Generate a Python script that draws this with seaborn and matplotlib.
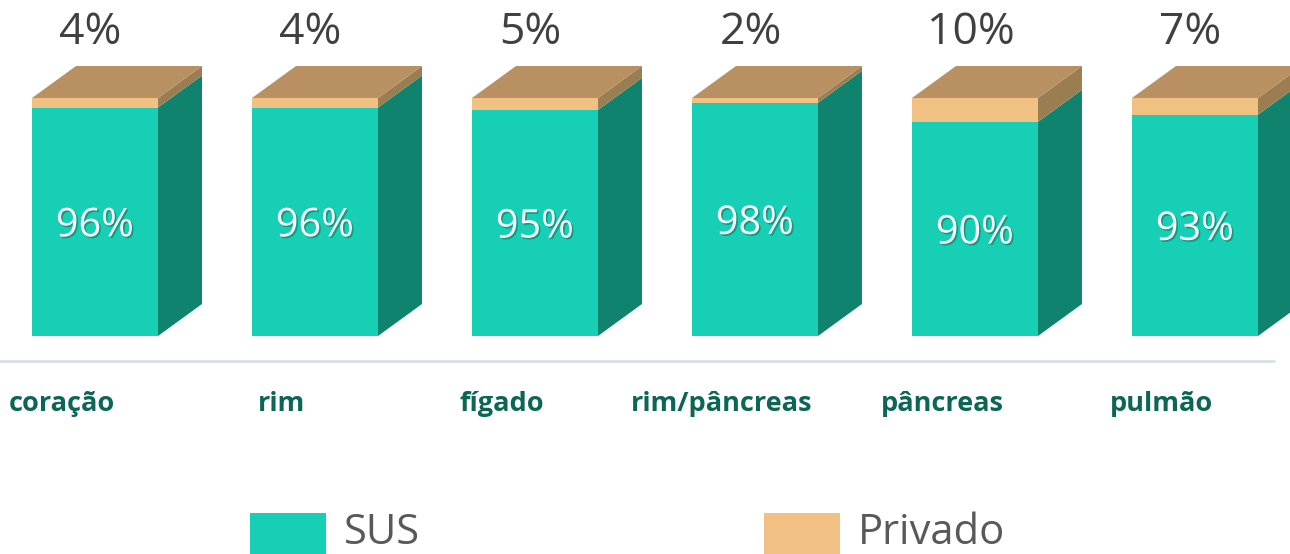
import numpy as np
import pandas as pd
import matplotlib
matplotlib.use("Agg")
import matplotlib.pyplot as plt
import seaborn as sns
from matplotlib.patches import Polygon, Patch, Rectangle
from matplotlib.legend_handler import HandlerPatch
import matplotlib.patheffects as pe

# ---- data ----
categories = ["coração", "rim", "fígado", "rim/pâncreas", "pâncreas", "pulmão"]
sus = [96, 96, 95, 98, 90, 93]
privado = [4, 4, 5, 2, 10, 7]
series_names = ["SUS", "Privado"]

# ---- style ----
SUS_FRONT = "#17CFB4"
SUS_SIDE = "#10836F"
PRIV_FRONT = "#F0C182"
PRIV_SIDE = "#9B7D52"
TOP = "#B89062"
CAT_COLOR = "#0B6656"
LABEL_COLOR = "#404040"
LEGEND_TEXT = "#595959"

sns.set_theme(style="white")
plt.rcParams['font.family'] = ['Open Sans', 'DejaVu Sans']

fig = plt.figure(figsize=(12.9, 5.54), dpi=100)
ax = fig.add_axes([0, 0, 1, 1])

df = pd.DataFrame({"cat": categories, "sus": sus, "priv": privado})
df["total"] = df["sus"] + df["priv"]

BAR_W = 126 / 220
sns.barplot(data=df, x="cat", y="total", color=PRIV_FRONT, saturation=1,
            width=BAR_W, ax=ax, zorder=3, linewidth=0, edgecolor="none")
sns.barplot(data=df, x="cat", y="sus", color=SUS_FRONT, saturation=1,
            width=BAR_W, ax=ax, zorder=4, linewidth=0, edgecolor="none")

# pixel mapping: 220 px per category, 2.38 px per percent
ax.set_xlim(-0.4318, 5.432)
ax.set_ylim(-91.6, 141.18)
ax.set_axis_off()

DX = 44 / 220          # depth in x (data units)
DY = 32 / 2.38         # depth in y (data units)

tot_bars = ax.containers[0]
sus_bars = ax.containers[1]
shadow = [pe.withSimplePatchShadow(offset=(1.2, -1.2),
                                   shadow_rgbFace="#0a5c50", alpha=0.45)]
for i, (pt, ps) in enumerate(zip(tot_bars.patches, sus_bars.patches)):
    x0 = pt.get_x()
    x1 = x0 + pt.get_width()
    s = ps.get_height()
    t = pt.get_height()
    # side faces
    ax.add_patch(Polygon([(x1, 0), (x1 + DX, DY), (x1 + DX, s + DY), (x1, s)],
                         closed=True, facecolor=SUS_SIDE, edgecolor="none", zorder=2))
    ax.add_patch(Polygon([(x1, s), (x1 + DX, s + DY), (x1 + DX, t + DY), (x1, t)],
                         closed=True, facecolor=PRIV_SIDE, edgecolor="none", zorder=2))
    # top face
    ax.add_patch(Polygon([(x0, t), (x1, t), (x1 + DX, t + DY), (x0 + DX, t + DY)],
                         closed=True, facecolor=TOP, edgecolor="none", zorder=2))
    # labels
    cx = x0 + pt.get_width() / 2
    ax.text(cx - 0.02, t + 27.5, f"{privado[i]}%", ha="center", va="center",
            fontsize=32, color=LABEL_COLOR, zorder=6)
    ax.text(cx, s / 2 - 1.8, f"{sus[i]}%", ha="center", va="center",
            fontsize=28.5, color="white", zorder=7, path_effects=shadow)
    ax.text(cx - 0.15, -28.6, categories[i], ha="center", va="center",
            fontsize=19.5, fontweight="bold", color=CAT_COLOR, zorder=6)

# baseline
ax.plot([-0.4318, 5.36], [-10.5, -10.5], color="#D6E0EC", lw=2, zorder=1)

# legend
class TallHandler(HandlerPatch):
    def create_artists(self, legend, orig_handle, xdescent, ydescent,
                       width, height, fontsize, trans):
        extra = 20
        r = Rectangle((-xdescent, -ydescent - extra), width, height + extra,
                      facecolor=orig_handle.get_facecolor(), edgecolor="none",
                      transform=trans)
        return [r]

handles = [Patch(facecolor=SUS_FRONT, label=series_names[0]),
           Patch(facecolor=PRIV_FRONT, label=series_names[1])]
fs = 30
fs_px = fs * 100 / 72
leg = fig.legend(handles=handles, loc="upper left",
                 bbox_to_anchor=(250 / 1290, 1 - 512 / 554),
                 ncol=2, frameon=False, fontsize=fs,
                 handlelength=76 / fs_px, handleheight=0.84,
                 handletextpad=18 / fs_px, columnspacing=344 / fs_px,
                 borderpad=0, borderaxespad=0,
                 handler_map={Patch: TallHandler()})
for txt in leg.get_texts():
    txt.set_color(LEGEND_TEXT)

fig.savefig("out.png", dpi=100)
